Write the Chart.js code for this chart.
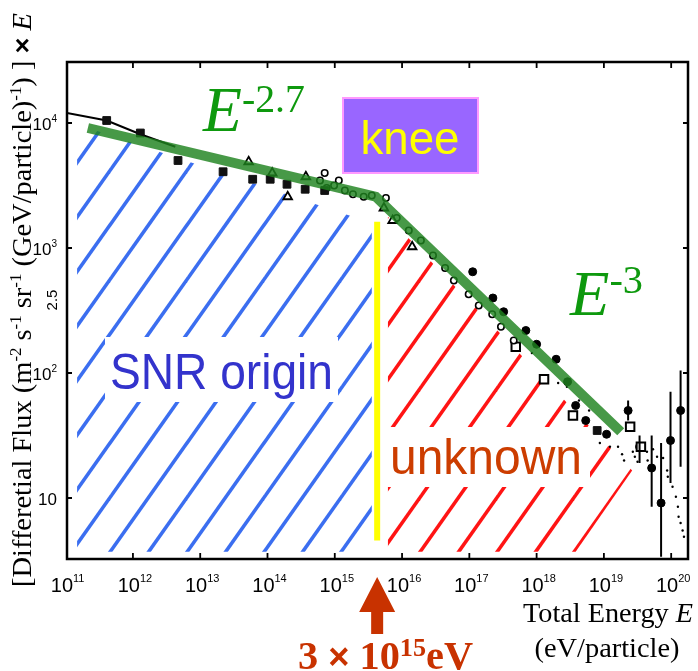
<!DOCTYPE html>
<html>
<head>
<meta charset="utf-8">
<script src="https://cdn.jsdelivr.net/npm/chart.js@4.4.0/dist/chart.umd.min.js"></script>
<style>
  html, body { margin: 0; padding: 0; background: #fff; }
  #wrap { width: 698px; height: 671px; }
</style>
</head>
<body>
<div id="wrap"><canvas id="chart" width="698" height="671"></canvas></div>
<script>
// all values are decades: log10(E / eV) and log10(flux x E^2.5)
const xTickExps = [11, 12, 13, 14, 15, 16, 17, 18, 19, 20];
const yTickExps = [1, 2, 3, 4];

const kneeE = 15.63;
const kneeLineF = [0.66, 3.21];

const fitE = [11.33, 15.61, 15.82, 19.25];
const fitF = [3.96, 3.41, 3.30, 1.53];

const lowLineE = [11.02, 11.61, 12.11, 12.63];
const lowLineF = [4.08, 4.02, 3.91, 3.81];

const snrAreaE = [11.17, 15.55, 15.55, 11.17, 11.17];
const snrAreaF = [3.99, 3.20, 0.57, 0.57, 3.99];
const unkAreaE = [15.79, 19.42, 18.58, 15.79, 15.79];
const unkAreaF = [3.25, 1.22, 0.57, 0.57, 3.25];

const filledSqE = [11.61, 12.11, 12.67, 13.34, 13.78, 14.04, 14.29, 14.56, 14.85, 18.90];
const filledSqF = [4.02, 3.92, 3.70, 3.61, 3.55, 3.55, 3.51, 3.47, 3.46, 1.54];

const openTriE = [13.72, 14.07, 14.30, 14.57, 15.73, 15.86, 16.15];
const openTriF = [3.69, 3.60, 3.41, 3.57, 3.32, 3.22, 3.01];

const openCircE = [14.78, 14.85, 14.88, 14.99, 15.06, 15.15, 15.27, 15.43, 15.55, 15.76, 15.92,
                   16.10, 16.28, 16.46, 16.64, 16.77, 16.99, 17.14, 17.34, 17.47, 17.66];
const openCircF = [3.54, 3.60, 3.48, 3.50, 3.54, 3.46, 3.43, 3.41, 3.42, 3.40, 3.24,
                   3.14, 3.06, 2.94, 2.84, 2.74, 2.63, 2.54, 2.47, 2.37, 2.26];

const filledCircE = [17.05, 17.35, 17.51, 17.84, 18.00, 18.29, 18.46, 18.58, 18.73, 19.04];
const filledCircF = [2.81, 2.60, 2.49, 2.34, 2.23, 2.11, 1.93, 1.74, 1.62, 1.51];

const openSqE = [17.69, 18.11, 18.54, 19.39, 19.55];
const openSqF = [2.21, 1.95, 1.66, 1.57, 1.41];

const errE = [19.36, 19.53, 19.71, 19.85, 19.99, 20.14];
const errF = [1.70, 1.41, 1.24, 0.96, 1.46, 1.70];
const errHi = [1.78, 1.50, 1.50, 1.44, 1.85, 2.02];
const errLo = [1.62, 1.28, 0.93, 0.53, 1.12, 1.25];

const dotE = [17.93, 18.32, 18.45, 18.63, 18.78, 18.94, 19.09, 19.21, 19.27, 19.30, 19.43, 19.46, 19.50, 19.64,
              19.65, 19.73, 19.79, 19.88, 19.94, 19.95, 20.02, 20.07, 20.10, 20.11, 20.14, 20.17, 20.19];
const dotF = [2.16, 1.92, 1.89, 1.78, 1.70, 1.44, 1.41, 1.41, 1.35, 1.30, 1.37, 1.33, 1.29, 1.37,
              1.30, 1.39, 1.33, 1.32, 1.22, 1.17, 1.09, 1.01, 0.93, 0.85, 0.80, 0.74, 0.69];

function pts(es, fs) {
    return es.map((e, i) => ({ x: 10 ** e, y: 10 ** fs[i] }));
}

// diagonal hatch pattern, lines 38.5px apart
function hatch(color, tx, ty) {
    const c = document.createElement('canvas');
    c.width = 77; c.height = 109;
    const g = c.getContext('2d');
    g.strokeStyle = color;
    g.lineWidth = 3.6;
    for (let k = -3; k <= 3; k++) {
        g.beginPath();
        g.moveTo(k * 38.5 - 7.7, 109 + 10.9);
        g.lineTo(k * 38.5 + 77 + 7.7, -10.9);
        g.stroke();
    }
    const p = g.createPattern(c, 'repeat');
    p.setTransform(new DOMMatrix().translate(tx, ty));
    return p;
}

function drawRuns(ctx, runs, x, y, align, width) {
    let total = 0;
    const ws = runs.map(r => { ctx.font = r[1]; const w = ctx.measureText(r[0]).width; total += w; return w; });
    const sx = width ? width / total : 1;
    ctx.save();
    ctx.translate(x, y);
    ctx.scale(sx, 1);
    let cx = align === 'center' ? -total / 2 : align === 'right' ? -total : 0;
    ctx.textAlign = 'left';
    ctx.textBaseline = 'alphabetic';
    runs.forEach((r, i) => {
        ctx.font = r[1];
        ctx.fillText(r[0], cx, -(r[2] || 0));
        cx += ws[i];
    });
    ctx.restore();
}

const SERIF = '"Liberation Serif", "Times New Roman", serif';
const SANS = '"Liberation Sans", Arial, sans-serif';

const decor = {
    id: 'decor',
    afterDatasetsDraw(chart) {
        const ctx = chart.ctx;
        const xs = chart.scales.x, ys = chart.scales.y;
        const px = v => xs.getPixelForValue(10 ** v);
        const py = v => ys.getPixelForValue(10 ** v);

        // error bars
        ctx.save();
        ctx.strokeStyle = '#000';
        ctx.lineWidth = 2;
        errE.forEach((e, i) => {
            ctx.beginPath();
            ctx.moveTo(px(e), py(errHi[i]));
            ctx.lineTo(px(e), py(errLo[i]));
            ctx.stroke();
        });
        ctx.restore();

        // white boxes behind region labels
        ctx.fillStyle = '#fff';
        ctx.fillRect(105, 337, 233, 65);
        ctx.fillRect(383, 427, 207, 60);

        ctx.fillStyle = '#3333cc';
        drawRuns(ctx, [['SNR origin', '50px ' + SANS]], 110, 389, 'left', 223);
        ctx.fillStyle = '#cc3d00';
        drawRuns(ctx, [['unknown', '50px ' + SANS]], 390, 474, 'left', 192);

        // knee box
        ctx.fillStyle = '#9966ff';
        ctx.fillRect(343, 98, 135, 75);
        ctx.strokeStyle = '#ff99ff';
        ctx.lineWidth = 2;
        ctx.strokeRect(343, 98, 135, 75);
        ctx.fillStyle = '#ffff00';
        drawRuns(ctx, [['knee', '46px ' + SANS]], 410, 154, 'center', 99);

        // power-law labels
        ctx.fillStyle = '#0e990e';
        drawRuns(ctx, [['E', 'italic 64px ' + SERIF], ['-2.7', '40px ' + SERIF, 19]], 203, 131, 'left', 102);
        drawRuns(ctx, [['E', 'italic 64px ' + SERIF], ['-3', '40px ' + SERIF, 22]], 570, 315, 'left', 73);
    },
    afterDraw(chart) {
        const ctx = chart.ctx;
        const a = chart.chartArea;
        const xs = chart.scales.x, ys = chart.scales.y;
        const px = v => xs.getPixelForValue(10 ** v);
        const py = v => ys.getPixelForValue(10 ** v);

        // frame and inward ticks
        ctx.save();
        ctx.strokeStyle = '#000';
        ctx.lineWidth = 2.5;
        ctx.strokeRect(a.left, a.top, a.right - a.left, a.bottom - a.top);
        ctx.lineWidth = 1.8;
        ctx.beginPath();
        xTickExps.forEach(e => {
            if (e === 11) return;
            const x = px(e);
            ctx.moveTo(x, a.top); ctx.lineTo(x, a.top + 6);
            ctx.moveTo(x, a.bottom); ctx.lineTo(x, a.bottom - 6);
        });
        yTickExps.forEach(e => {
            const y = py(e);
            ctx.moveTo(a.left, y); ctx.lineTo(a.left + 5, y);
            ctx.moveTo(a.right, y); ctx.lineTo(a.right - 5, y);
        });
        ctx.stroke();
        ctx.restore();

        // tick labels
        ctx.fillStyle = '#000';
        xTickExps.forEach(e => {
            drawRuns(ctx, [['10', '20px ' + SANS], [String(e), '11px ' + SANS, 10]], px(e) + 2, 592, 'center');
        });
        yTickExps.forEach(e => {
            const runs = e === 1 ? [['10', '17px ' + SANS]] : [['10', '17px ' + SANS], [String(e), '10px ' + SANS, 8]];
            drawRuns(ctx, runs, 57, py(e) + 7, 'right');
        });

        // y axis title
        ctx.save();
        ctx.translate(31, 587);
        ctx.rotate(-Math.PI / 2);
        const f = '27px ' + SERIF, s = '16px ' + SERIF;
        drawRuns(ctx, [
            ['[Differetial Flux (m', f], ['-2', s, 10], [' s', f], ['-1', s, 10], [' sr', f], ['-1', s, 10],
            [' (GeV/particle)', f], ['-1', s, 10], [') ] ', f], ['\u00d7', 'bold 26px ' + SANS], [' ', f], ['E', 'italic 27px ' + SERIF]
        ], 0, 0, 'left', 574);
        ctx.restore();

        ctx.save();
        ctx.translate(57, 300);
        ctx.rotate(-Math.PI / 2);
        drawRuns(ctx, [['2.5', '15px ' + SANS]], 0, 0, 'center');
        ctx.restore();

        // x axis title
        drawRuns(ctx, [['Total Energy ', '27px ' + SERIF], ['E', 'italic 27px ' + SERIF]], 523, 622, 'left', 170);
        drawRuns(ctx, [['(eV/particle)', '27px ' + SERIF]], 607, 657, 'center', 145);

        // knee arrow
        const ax = px(kneeE);
        ctx.fillStyle = '#c83200';
        ctx.beginPath();
        ctx.moveTo(ax, 577);
        ctx.lineTo(ax + 18, 612);
        ctx.lineTo(ax + 6, 612);
        ctx.lineTo(ax + 6, 634);
        ctx.lineTo(ax - 6, 634);
        ctx.lineTo(ax - 6, 612);
        ctx.lineTo(ax - 18, 612);
        ctx.closePath();
        ctx.fill();
        drawRuns(ctx, [
            ['3 ', 'bold 40px ' + SERIF], ['\u00d7', 'bold 36px ' + SANS], [' 10', 'bold 40px ' + SERIF],
            ['15', 'bold 26px ' + SERIF, 13], ['eV', 'bold 40px ' + SERIF]
        ], 298, 669, 'left', 175);
    }
};

const chart = new Chart(document.getElementById('chart'), {
    type: 'line',
    data: {
        datasets: [
            { data: pts(snrAreaE, snrAreaF), fill: 'shape', backgroundColor: hatch('#3b6ef0', 110, 443),
              borderColor: 'rgba(0,0,0,0)', pointRadius: 0, order: 10 },
            { data: pts(unkAreaE, unkAreaF), fill: 'shape', backgroundColor: hatch('#ff1414', 112, 443),
              borderColor: 'rgba(0,0,0,0)', pointRadius: 0, order: 10 },
            { data: pts([kneeE, kneeE], kneeLineF), borderColor: '#ffff00', borderWidth: 6,
              borderCapStyle: 'butt', pointRadius: 0, order: 9 },
            { data: pts(lowLineE, lowLineF), borderColor: '#000', borderWidth: 2, pointRadius: 0, order: 5 },
            { data: pts(dotE, dotF), showLine: false, pointRadius: 1.2, backgroundColor: '#000', borderWidth: 0, order: 4 },
            { data: pts(filledSqE, filledSqF), showLine: false, pointStyle: 'rect', pointRadius: 5.5,
              backgroundColor: '#111', borderColor: '#111', borderWidth: 1, order: 3 },
            { data: pts(openTriE, openTriF), showLine: false, pointStyle: 'triangle', pointRadius: 5,
              backgroundColor: '#fff', borderColor: '#000', borderWidth: 1.8, order: 3 },
            { data: pts(openCircE, openCircF), showLine: false, pointRadius: 3.2,
              backgroundColor: '#fff', borderColor: '#000', borderWidth: 1.6, order: 3 },
            { data: pts(filledCircE, filledCircF), showLine: false, pointRadius: 4,
              backgroundColor: '#000', borderColor: '#000', borderWidth: 1, order: 3 },
            { data: pts(openSqE, openSqF), showLine: false, pointStyle: 'rect', pointRadius: 6,
              backgroundColor: '#fff', borderColor: '#000', borderWidth: 2, order: 3 },
            { data: pts(errE, errF), showLine: false, pointRadius: 4,
              backgroundColor: '#000', borderColor: '#000', borderWidth: 1, order: 3 },
            { data: pts(fitE, fitF), borderColor: 'rgba(30,130,30,0.82)', borderWidth: 10,
              borderCapStyle: 'butt', borderJoinStyle: 'miter', pointRadius: 0, order: 1 }
        ]
    },
    options: {
        responsive: false,
        animation: false,
        devicePixelRatio: 1,
        layout: { padding: { left: 67, top: 62, right: 10, bottom: 112 } },
        scales: {
            x: { type: 'logarithmic', display: false, min: 10 ** 11.02, max: 10 ** 20.25 },
            y: { type: 'logarithmic', display: false, min: 10 ** 0.512, max: 10 ** 4.488 }
        },
        plugins: { legend: { display: false }, tooltip: { enabled: false } }
    },
    plugins: [decor]
});
</script>
</body>
</html>
